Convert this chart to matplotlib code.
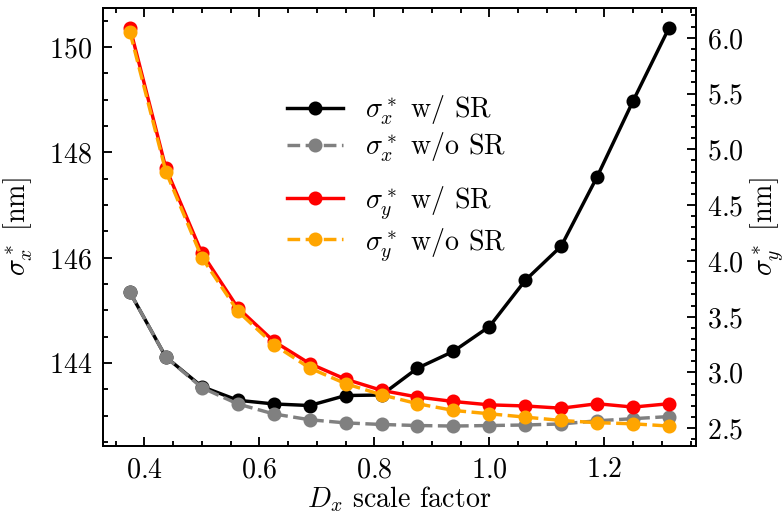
import matplotlib
matplotlib.use("Agg")
import matplotlib.pyplot as plt
from matplotlib.ticker import MultipleLocator, AutoMinorLocator

plt.rcParams["font.family"] = "serif"
plt.rcParams["font.serif"] = ["cmr10"]
plt.rcParams["mathtext.fontset"] = "cm"
plt.rcParams["axes.formatter.use_mathtext"] = True
plt.rcParams["font.size"] = 9
plt.rcParams["axes.linewidth"] = 0.6

# scale factor of D_x
scale = [0.375, 0.4375, 0.5, 0.5625, 0.625, 0.6875, 0.75, 0.8125,
         0.875, 0.9375, 1.0, 1.0625, 1.125, 1.1875, 1.25, 1.3125]

# sigma_x* [nm]
sx_sr = [145.34, 144.11, 143.55, 143.29, 143.22, 143.19, 143.38, 143.39,
         143.90, 144.22, 144.69, 145.57, 146.22, 147.54, 148.98, 150.37]
sx_nosr = [145.34, 144.11, 143.53, 143.22, 143.03, 142.92, 142.86, 142.83,
           142.81, 142.80, 142.81, 142.82, 142.84, 142.90, 142.94, 142.98]

# sigma_y* [nm]
sy_sr = [6.09, 4.83, 4.07, 3.58, 3.28, 3.08, 2.94, 2.84,
         2.78, 2.74, 2.71, 2.70, 2.68, 2.72, 2.69, 2.72]
sy_nosr = [6.05, 4.80, 4.03, 3.55, 3.25, 3.04, 2.90, 2.80,
           2.72, 2.66, 2.63, 2.60, 2.57, 2.55, 2.54, 2.52]

fig, ax = plt.subplots(figsize=(3.5, 2.3), dpi=224)
fig.subplots_adjust(left=0.1314, right=0.8878, top=0.9845, bottom=0.134)
ax2 = ax.twinx()

l1, = ax.plot(scale, sx_sr, "o-", color="k", lw=1.1, ms=3.5, label=r"$\sigma_x^*$ w/ SR")
l2, = ax.plot(scale, sx_nosr, "o--", color="gray", lw=1.1, ms=3.5, label=r"$\sigma_x^*$ w/o SR")
l3, = ax2.plot(scale, sy_sr, "o-", color="r", lw=1.1, ms=3.5, label=r"$\sigma_y^*$ w/ SR")
l4, = ax2.plot(scale, sy_nosr, "o--", color="orange", lw=1.1, ms=3.5, label=r"$\sigma_y^*$ w/o SR")

ax.set_xlabel(r"$D_x$ scale factor")
ax.set_ylabel(r"$\sigma_x^*$ [nm]")
ax2.set_ylabel(r"$\sigma_y^*$ [nm]")
ax.xaxis.set_label_coords(0.5, -0.088)
ax.yaxis.set_label_coords(-0.115, 0.5)
ax2.yaxis.set_label_coords(1.088, 0.5)

ax.xaxis.set_major_locator(MultipleLocator(0.2))
ax.xaxis.set_minor_locator(AutoMinorLocator(4))
ax.yaxis.set_major_locator(MultipleLocator(2))
ax.yaxis.set_minor_locator(AutoMinorLocator(4))
ax2.yaxis.set_major_locator(MultipleLocator(0.5))
ax2.yaxis.set_minor_locator(AutoMinorLocator(5))

ax.tick_params(which="both", direction="in", top=True, right=False, width=0.6)
ax.tick_params(which="major", length=3)
ax.tick_params(which="minor", length=1.5)
ax2.tick_params(which="both", direction="in", width=0.6)
ax2.tick_params(which="major", length=3)
ax2.tick_params(which="minor", length=1.5)

leg1 = ax2.legend(handles=[l1, l2], loc="center", bbox_to_anchor=(0.495, 0.724),
                  frameon=False, labelspacing=0.15)
ax2.add_artist(leg1)
ax2.legend(handles=[l3, l4], loc="center", bbox_to_anchor=(0.495, 0.508),
           frameon=False, labelspacing=0.15)

fig.savefig("out.png", dpi=224)
